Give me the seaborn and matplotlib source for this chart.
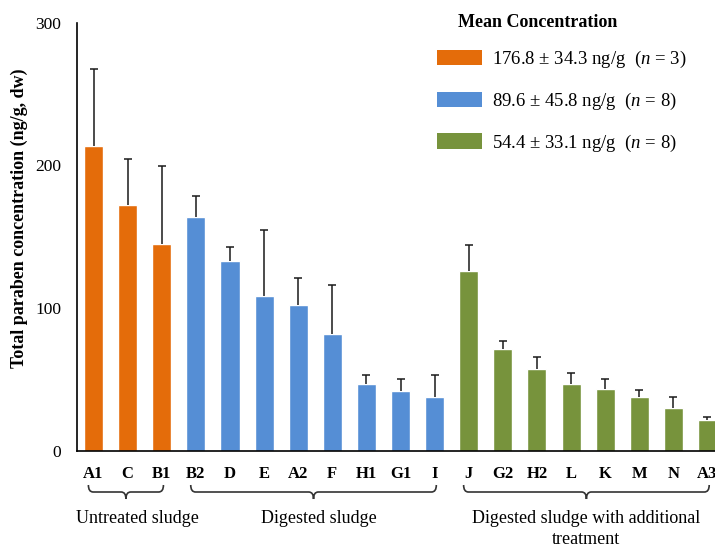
import matplotlib
matplotlib.use('Agg')
import matplotlib.pyplot as plt
import matplotlib.transforms as mtransforms
from matplotlib.patches import Patch, PathPatch
from matplotlib.path import Path
import numpy as np
import pandas as pd
import seaborn as sns

# data
sites = ['A1', 'C', 'B1', 'B2', 'D', 'E', 'A2', 'F', 'H1', 'G1', 'I',
         'J', 'G2', 'H2', 'L', 'K', 'M', 'N', 'A3']
conc = [213.3, 172.4, 145.1, 164.0, 133.0, 108.6, 102.3, 82.0, 46.9, 42.0, 37.8,
        126.2, 71.5, 57.5, 46.9, 43.5, 37.8, 30.1, 21.7]
sd = [54.5, 31.8, 54.4, 14.7, 9.9, 46.5, 18.7, 34.6, 6.1, 8.2, 15.2,
      18.2, 5.4, 8.6, 8.0, 6.7, 5.0, 8.0, 2.4]
groups = ['untreated'] * 3 + ['digested'] * 8 + ['additional'] * 8
group_keys = ['untreated', 'digested', 'additional']
group_colors = ['#E46C0A', '#558ED5', '#77933C']
group_names = ['Untreated sludge', 'Digested sludge',
               'Digested sludge with additional\ntreatment']
legend_labels = ['176.8 ± 34.3 ng/g  ($n$ = 3)',
                 '89.6 ± 45.8 ng/g  ($n$ = 8)',
                 '54.4 ± 33.1 ng/g  ($n$ = 8)']

sns.set_theme(style='white')
plt.rcParams['font.family'] = ['Liberation Serif', 'DejaVu Serif']
plt.rcParams['mathtext.fontset'] = 'custom'
plt.rcParams['mathtext.rm'] = 'Liberation Serif'
plt.rcParams['mathtext.it'] = 'Liberation Serif:italic'
for k in ['text.color', 'axes.labelcolor', 'xtick.color', 'ytick.color', 'axes.edgecolor']:
    plt.rcParams[k] = 'black'

W, H = 715, 547
fig = plt.figure(figsize=(W / 100, H / 100), dpi=100)
ax = fig.add_axes([76.7 / W, 1 - 451 / H, (W - 76.7) / W, (451 - 22.7) / H])

df = pd.DataFrame({'site': sites, 'conc': conc, 'group': groups})
sns.barplot(data=df, x='site', y='conc', hue='group', order=sites,
            hue_order=group_keys, palette=dict(zip(group_keys, group_colors)),
            dodge=False, width=0.56, saturation=1, errorbar=None,
            legend=False, ax=ax)

x = np.arange(len(sites))
eb = ax.errorbar(x, conc, yerr=[np.zeros(len(sd)), sd], fmt='none',
                 ecolor='#1a1a1a', elinewidth=1.1, capsize=3.2, capthick=1.1,
                 zorder=3)
eb.lines[1][0].set_visible(False)  # only upper caps

ax.set_xlim(-0.493, 18.22)
ax.set_ylim(0, 300)
ax.set_yticks([0, 100, 200, 300])
ax.set_xlabel('')
ax.set_ylabel('')
sns.despine(ax=ax)
for s in ['left', 'bottom']:
    ax.spines[s].set_linewidth(1.2)
ax.tick_params(axis='y', direction='in', length=3, width=1, pad=11.3, labelsize=12.5)
ax.tick_params(axis='x', length=0, pad=11, labelsize=12)
for t in ax.get_xticklabels():
    t.set_fontweight('bold')

fig.text(19.5 / W, 1 - 218 / H, 'Total paraben concentration (ng/g, dw)',
         rotation=90, ha='center', va='center', fontsize=13, fontweight='bold')

# legend
handles = [Patch(facecolor=c, edgecolor='none') for c in group_colors]
fs = 13.5 * 100 / 72
ax.legend(handles, legend_labels, loc='upper left',
          bbox_to_anchor=(437 / W, 1 - 49 / H), bbox_transform=fig.transFigure,
          frameon=False, fontsize=13.5, handlelength=45 / fs, handleheight=17 / fs,
          handletextpad=9.7 / fs, labelspacing=1.1, borderpad=0, borderaxespad=0)
fig.text(457.7 / W, 1 - 26.7 / H, 'Mean Concentration', ha='left',
         va='baseline', fontsize=13, fontweight='bold')

# group brackets under the tick labels
trans = mtransforms.blended_transform_factory(ax.transData, fig.transFigure)
y_end, y_line, y_tip = [1 - v / H for v in (485, 492, 499)]
r = 0.14
text_shift = [0.35, 0.15, 0.0]
for gi, key in enumerate(group_keys):
    idx = [i for i, g in enumerate(groups) if g == key]
    x0, x1 = idx[0] - 0.15, idx[-1] + 0.05
    xc = (x0 + x1) / 2
    verts = [(x0, y_end), (x0, y_line), (x0 + r, y_line), (xc - r, y_line),
             (xc, y_line), (xc, y_tip),
             (xc, y_tip), (xc, y_line), (xc + r, y_line), (x1 - r, y_line),
             (x1, y_line), (x1, y_end)]
    codes = [Path.MOVETO, Path.CURVE3, Path.CURVE3, Path.LINETO,
             Path.CURVE3, Path.CURVE3,
             Path.MOVETO, Path.CURVE3, Path.CURVE3, Path.LINETO,
             Path.CURVE3, Path.CURVE3]
    ax.add_patch(PathPatch(Path(verts, codes), transform=trans, fill=False,
                           edgecolor='#333333', lw=1.2, clip_on=False))
    for k, line in enumerate(group_names[gi].split('\n')):
        ax.text(xc + text_shift[gi], 1 - (523 + 21 * k) / H, line, transform=trans,
                ha='center', va='baseline', fontsize=13)

fig.savefig('out.png', dpi=100)
